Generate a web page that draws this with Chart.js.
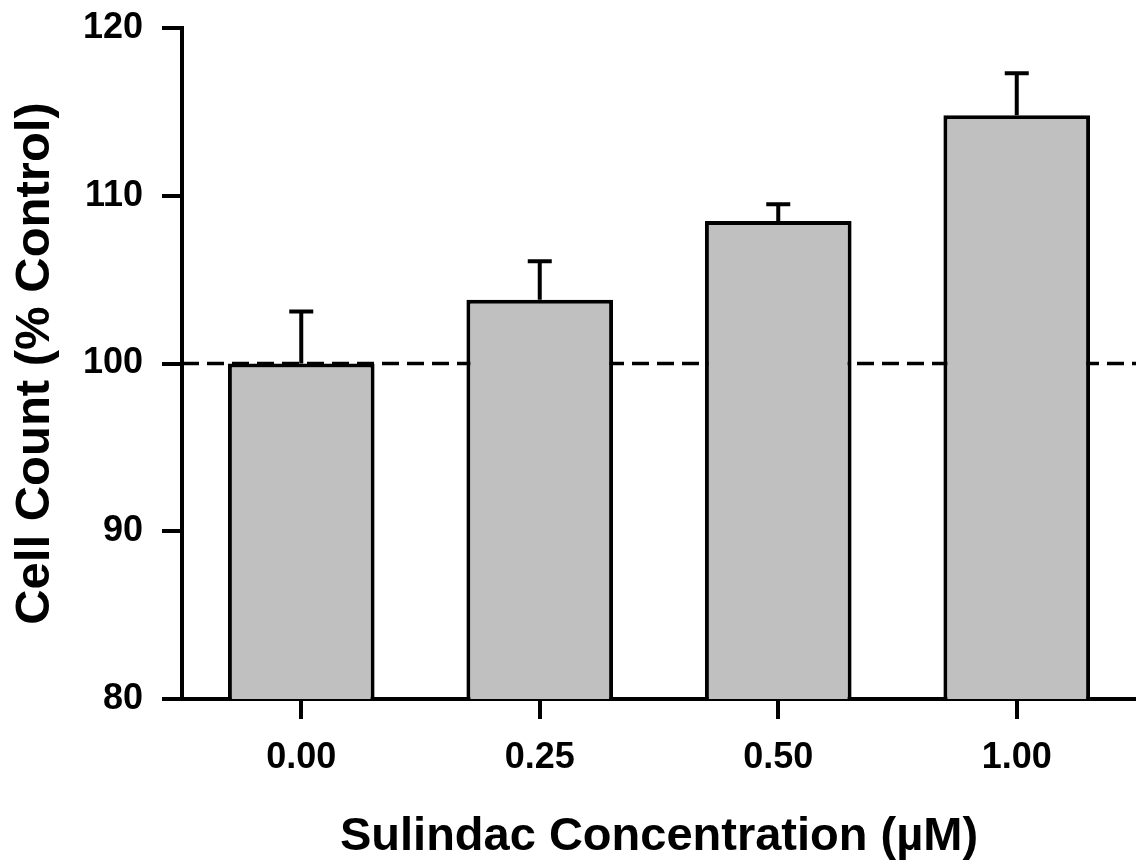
<!DOCTYPE html>
<html lang="en">
<head>
  <meta charset="UTF-8">
  <title>Cell Count vs Sulindac</title>
  <script src="https://cdn.jsdelivr.net/npm/chart.js"></script>
  <style>
    body { margin: 0; background: #fff; }
  </style>
</head>
<body>
  <canvas id="cellChart" width="1136" height="863"></canvas>

  <script>
    // datos
    const concentrations = ['0.00', '0.25', '0.50', '1.00'];
    const cellCount = [100, 103.8, 108.5, 114.8];
    const cellErr = [3.1, 2.3, 1.0, 2.5];
    const yTicks = [80, 90, 100, 110, 120];
    const controlLevel = 100;

    const FONT = "'Liberation Sans', Arial, sans-serif";

    // linea discontinua del control
    const controlLine = {
      id: 'controlLine',
      beforeDatasetsDraw(chart) {
        const { ctx, chartArea, scales } = chart;
        const y = scales.y.getPixelForValue(controlLevel);
        ctx.save();
        ctx.strokeStyle = '#000';
        ctx.lineWidth = 3.5;
        ctx.setLineDash([17, 8]);
        ctx.beginPath();
        ctx.moveTo(chartArea.left, y);
        ctx.lineTo(chartArea.right, y);
        ctx.stroke();
        ctx.restore();
      }
    };

    // barras de error (solo hacia arriba)
    const errorBars = {
      id: 'errorBars',
      afterDatasetsDraw(chart) {
        const { ctx, scales } = chart;
        const meta = chart.getDatasetMeta(0);
        ctx.save();
        ctx.strokeStyle = '#000';
        ctx.lineWidth = 4;
        meta.data.forEach((bar, i) => {
          const yTop = scales.y.getPixelForValue(cellCount[i] + cellErr[i]);
          const yBar = scales.y.getPixelForValue(cellCount[i]);
          ctx.beginPath();
          ctx.moveTo(bar.x, yBar);
          ctx.lineTo(bar.x, yTop);
          ctx.moveTo(bar.x - 12, yTop);
          ctx.lineTo(bar.x + 12, yTop);
          ctx.stroke();
        });
        ctx.restore();
      }
    };

    const ctx = document.getElementById('cellChart').getContext('2d');
    const chart = new Chart(ctx, {
      type: 'bar',
      data: {
        labels: concentrations,
        datasets: [{
          data: cellCount,
          backgroundColor: '#c0c0c0',
          borderColor: '#000',
          borderWidth: 4,
          borderSkipped: 'start',
          barPercentage: 0.615,
          categoryPercentage: 1
        }]
      },
      options: {
        responsive: false,
        animation: false,
        layout: { padding: { top: 28, right: 0, left: 0, bottom: 0 } },
        plugins: {
          legend: { display: false },
          tooltip: { enabled: false }
        },
        scales: {
          x: {
            offset: true,
            grid: { offset: false, drawOnChartArea: false, drawTicks: true, tickLength: 20, color: '#000', lineWidth: 4 },
            border: { display: true, color: '#000', width: 4 },
            ticks: { color: '#000', padding: 17, font: { family: FONT, size: 36, weight: 'bold' } },
            title: {
              display: true,
              text: 'Sulindac Concentration (\u00b5M)',
              color: '#000',
              font: { family: FONT, size: 47, weight: 'bold', lineHeight: 1 },
              padding: { top: 0, bottom: 2 }
            },
            afterFit(scale) {
              scale.height = 164;
              scale.paddingLeft = 0;
              scale.paddingRight = 0;
            }
          },
          y: {
            min: 80,
            max: 120,
            afterBuildTicks(scale) { scale.ticks = yTicks.map(v => ({ value: v })); },
            grid: { drawOnChartArea: false, drawTicks: true, tickLength: 20, color: '#000', lineWidth: 4 },
            border: { display: true, color: '#000', width: 4 },
            ticks: { color: '#000', padding: 19, font: { family: FONT, size: 36, weight: 'bold' } },
            title: {
              display: true,
              text: 'Cell Count (% Control)',
              color: '#000',
              font: { family: FONT, size: 49, weight: 'bold', lineHeight: 1 },
              padding: { top: 11, bottom: 0 }
            },
            afterFit(scale) {
              scale.width = 182;
              scale.paddingTop = 0;
              scale.paddingBottom = 0;
            }
          }
        }
      },
      plugins: [controlLine, errorBars]
    });
  </script>
</body>
</html>
